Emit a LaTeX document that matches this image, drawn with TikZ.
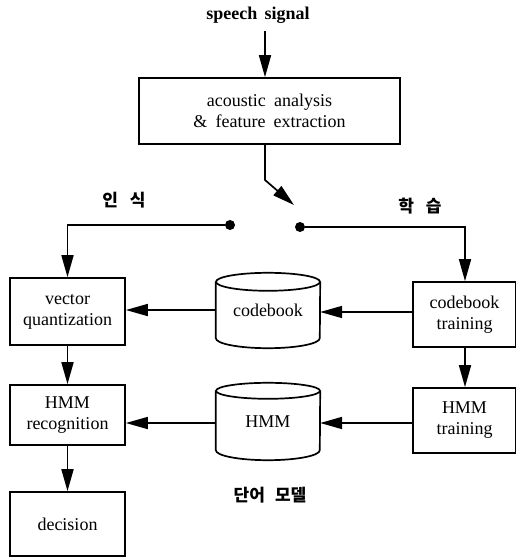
\documentclass[tikz,border=0pt]{standalone}
\usepackage{fontspec}
\setmainfont{Liberation Serif}
\newfontfamily\kr{Noto Sans CJK KR}
\usetikzlibrary{arrows.meta,calc}
\newcommand\widesp[1]{\spaceskip=#1\relax}
\begin{document}
\begin{tikzpicture}[x=1pt,y=1pt,
  lw/.style={line width=1.7pt},
  arr/.style={lw,-{Triangle[length=22pt,width=12pt]}},
  blk/.style={draw,lw,rectangle,inner sep=0pt,align=center,font=\fontsize{18}{21}\selectfont\widesp{0.45em plus 0.1em}},
  cylbox/.style={rectangle,inner sep=0pt,minimum width=104pt,font=\fontsize{18}{21}\selectfont},
  lbl/.style={font=\kr\bfseries\fontsize{17}{19}\selectfont,inner sep=0pt},
  dot/.style={circle,fill,inner sep=0pt,minimum size=10pt}]
\useasboundingbox (0,0) rectangle (516,-557);

\node[font=\bfseries\fontsize{18}{20}\selectfont\widesp{0.4em},inner sep=0pt] (sig) at (258,-15) {speech signal};
\node[blk,minimum width=261pt,minimum height=66pt] (aa) at (269.5,-111) {acoustic analysis\\\& feature extraction};

\coordinate (s0) at (265,-31);
\draw[arr] (s0) -- (s0 |- aa.north);

\coordinate (sw0) at (265,-180);
\coordinate (swtip) at (294,-205);
\draw[arr] (aa.south -| sw0) -- (sw0) -- (swtip);

\node[dot] (dl) at (230,-225) {};
\node[dot] (dr) at (300,-227) {};

\node[lbl] (lrec) at (124,-200) {인\hspace{0.7em}식};
\node[lbl] (ltr) at (420,-206) {학\hspace{0.7em}습};

\node[blk,minimum width=115pt,minimum height=67pt] (vq) at (67.5,-311.5) {vector\\quantization};
\node[blk,minimum width=115pt,minimum height=60pt] (hr) at (67.5,-415) {HMM\\recognition};
\node[blk,minimum width=115pt,minimum height=64pt] (dec) at (67.5,-524) {decision};

\node[blk,minimum width=103pt,minimum height=65pt] (cbt) at (464.5,-314.5) {codebook\\training};
\node[blk,minimum width=103pt,minimum height=65pt] (hmt) at (464.5,-420.5) {HMM\\training};

\node[cylbox,minimum height=75pt] (cb) at (268,-310.5) {codebook};
\node[cylbox,minimum height=77pt] (hm) at (268,-421.5) {HMM};

% cylinders
\foreach \c/\r in {cb/9,hm/8}{
  \draw[lw] ([yshift=-\r pt]\c.north west) -- ([yshift=10pt]\c.south west)
    arc[start angle=180,end angle=360,x radius=52pt,y radius=10pt]
    -- ([yshift=-\r pt]\c.north east);
  \draw[lw] ([yshift=-\r pt]\c.north) ellipse[x radius=52pt,y radius=\r pt];
}

% switch lines
\coordinate (lc) at (67.5,-225);
\draw[arr] (dl) -- (lc) -- (vq.north);
\coordinate (rc) at (465,-227);
\draw[arr] (dr) -- (rc) -- (rc |- cbt.north);

% flows
\draw[arr] (cbt.west |- 0,-312) -- (cb.east |- 0,-312);
\draw[arr] (cb.west |- 0,-310) -- (vq.east |- 0,-310);
\draw[arr] (hmt.west |- 0,-423) -- (hm.east |- 0,-423);
\draw[arr] (hm.west |- 0,-423) -- (hr.east |- 0,-423);

\draw[arr] (vq.south) -- (hr.north);
\draw[arr] (hr.south) -- (dec.north);
\draw[arr] (cbt.south -| rc) -- (hmt.north -| rc);

\node[lbl] (lwm) at (270,-495) {단어\hspace{0.6em}모델};
\end{tikzpicture}
\end{document}
